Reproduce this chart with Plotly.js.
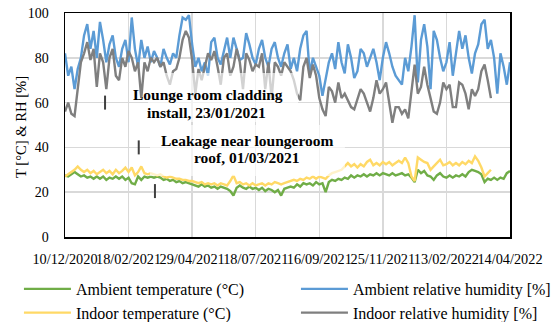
<!DOCTYPE html>
<html><head><meta charset="utf-8">
<script src="https://cdn.plot.ly/plotly-3.0.1.min.js"></script>
<style>html,body{margin:0;padding:0;background:#fff}#chart{width:552px;height:322px}</style>
</head><body><div id="chart"></div>
<script>
// Category tick labels (every 20 samples)
const tickLabels = ["10/12/2020","18/02/2021","29/04/2021","18/07/2021","16/09/2021","25/11/2021","13/02/2022","14/04/2022"];
const samplesPerLabel = 20;

const ambientTemp = [27.5,27,28,29,28,27,27.5,26.5,27,26,27,26,27,25.5,26.5,26,27,26,27,25.5,
26.5,24,23.5,27,25.5,27,26.5,27,26.5,27,26.5,25.5,26,25,25.5,24.5,25,24,24.5,24,
23.5,23,22.5,23.5,22.5,23,22,22.5,21.5,22.5,22,21.5,20.5,18.5,22,23,22,21.5,22.5,21.5,
22,21,22,20.5,21.5,21,20,21,18.5,21.5,22,22.5,22,23.5,22.5,24,23.5,24,23,24.5,
23.5,24,20,24.5,25.5,25,26,25.5,26.5,26,27.5,26.5,27.5,27,28,27,28,27.5,28.5,27.5,
28.5,28,27.5,28.5,27.5,28,28.5,27.5,28,26.5,24.5,30,28.5,29.5,27.5,27,25.5,27.5,28.5,27,
26.5,27.5,26.5,27.5,27,28,27,29,30,29.5,29,28,24.5,26,25.5,26.5,25.5,26.5,26,28.5,29.5];

const ambientRH = [82,72,76,66,75,80,90,95,84,92,80,96,88,78,86,90,80,76,84,88,
78,98,84,76,88,80,85,78,83,80,76,84,80,77,82,80,90,98,97,99,
86,76,80,74,78,72,87,89,80,77,83,89,80,89,84,79,80,91,86,80,
77,84,88,80,76,84,87,80,76,82,86,75,80,74,84,90,92,73,80,76,
72,63,70,78,82,75,87,78,73,86,80,71,74,84,82,76,80,84,78,70,
80,87,82,76,72,70,68,80,74,85,99,69,88,95,85,66,92,88,80,74,
78,87,72,82,92,84,90,80,73,82,86,95,97,84,88,80,64,82,76,68,78];

const indoorTemp = [27,28,29,30,31.5,30,29,30,28.5,29.5,28,29,30,28.5,29.5,28,30,28.5,29.5,31,
29,31,27.5,29,31.5,28.5,28,28.5,28,27.5,28,27,26.5,27,26.5,26,26,25.5,25.5,25,
25,24.5,24,24.5,23.5,24,23.5,24,23,24,23.5,23,25,27.5,24,24.5,23.5,24,23,24,
23,23.5,24,23,24,23.5,24.5,24,23.5,24,24.5,25,25.5,25,26,25.5,26.5,26,27,26,
27,26.5,26,27.5,28.5,29,29.5,30,31.5,33,31.5,32.5,31,32.5,31.5,33.5,34.5,32,33,32,
33.5,32.5,33.5,32,33,34,33,35.5,33,27,25,35.5,34.5,33.5,33,30,31.5,33,34.5,32,
32.5,33.5,32,33,32,33.5,32.5,34,33,36,34,31,27,28.5,30];

const indoorRH = [56,60,55,54,66,78,82,87,79,84,67,82,78,66,80,84,72,70,80,76,
83,80,74,78,62,78,74,80,78,80,76,78,72,68,74,75,80,88,92,89,
79,64,75,70,76,82,79,83,76,68,80,82,72,76,84,78,66,82,79,74,
77,76,82,66,78,62,78,76,72,78,76,74,70,64,61,76,80,71,77,72,
62,57,54,67,65,60,69,62,64,61,58,57,62,66,64,60,56,62,70,64,
66,69,60,51,58,58,55,57,53,64,77,64,67,76,68,62,56,55,60,69,
66,68,58,58,69,68,64,57,66,63,66,74,77,70,62];

// Event marks (sample index, value)
const eventIdx = [12.6, 23.2, 28.3];
const eventVal = [60, 40, 20.5];

const idx = a => a.map((_, i) => i);
const lineTrace = (name, y, color, legend) => ({
  type: 'scatter', mode: 'lines', name, x: idx(y), y, legend,
  line: {color, width: 2.4}, hoverinfo: 'skip'
});

const serif = 'Liberation Serif, Times New Roman, serif';
const nLab = tickLabels.length;
const traces = [
  lineTrace('Ambient temperature (°C)', ambientTemp, '#70AD47', 'legend'),
  lineTrace('Ambient relative humidity [%]', ambientRH, '#5B9BD5', 'legend2'),
  lineTrace('Indoor temperature (°C)', indoorTemp, '#FFD966', 'legend'),
  lineTrace('Indoor relative humidity [%]', indoorRH, '#7F7F7F', 'legend2'),
  {type:'scatter', mode:'markers', x: eventIdx, y: eventVal, showlegend:false,
   marker:{symbol:'line-ns', size:10, line:{width:2, color:'#404040'}}, hoverinfo:'skip'}
];

const legendBase = {
  orientation: 'v', xanchor: 'left', y: -0.156, yanchor: 'top',
  font: {family: serif, size: 16, color: '#000'},
  bgcolor: 'rgba(0,0,0,0)', itemwidth: 47, tracegroupgap: 0
};

const boldFont = {family: serif, size: 15.5, color: '#000'};
const txt = (text, x, y) => ({xref: 'paper', yref: 'paper', x, y, xanchor: 'center', yanchor: 'middle',
  showarrow: false, text: '<b>' + text + '</b>', font: boldFont});
const fade = (x0, x1, y0, y1) => ({type: 'rect', xref: 'paper', yref: 'paper', x0, x1, y0, y1,
  fillcolor: 'rgba(255,255,255,0.65)', line: {width: 0}, layer: 'above'});

const layout = {
  width: 552, height: 322,
  margin: {l: 65, r: 42, t: 13, b: 85, autoexpand: false},
  paper_bgcolor: '#fff', plot_bgcolor: '#fff',
  font: {family: serif, size: 14, color: '#000'},
  showlegend: true,
  xaxis: {
    range: [0, (nLab - 1) * samplesPerLabel],
    tickvals: tickLabels.map((_, i) => i * samplesPerLabel),
    ticktext: tickLabels,
    tickangle: 0,
    showgrid: true, gridcolor: '#d9d9d9', gridwidth: 1.5,
    showline: true, linecolor: '#000', linewidth: 1.5, mirror: true,
    ticks: '', ticklabelstandoff: 8,
    tickfont: {family: serif, size: 14.3, color: '#000'},
    zeroline: false, fixedrange: true
  },
  yaxis: {
    range: [0, 100], dtick: 20,
    showgrid: true, gridcolor: '#d9d9d9', gridwidth: 1.5,
    showline: true, linecolor: '#000', linewidth: 1.5, mirror: true,
    ticks: '', ticklabelstandoff: 12,
    tickfont: {family: serif, size: 14, color: '#000'},
    zeroline: false, fixedrange: true
  },
  legend: Object.assign({}, legendBase, {x: -0.1035}),
  legend2: Object.assign({}, legendBase, {x: 0.519}),
  shapes: [
    fade(0.1865, 0.5236, 0.513, 0.732),
    fade(0.191, 0.629, 0.272, 0.5)
  ],
  annotations: [
    {xref: 'paper', yref: 'paper', x: -0.099, y: 0.491, xanchor: 'center', yanchor: 'middle',
     textangle: -90, showarrow: false, text: 'T [°C] & RH [%]',
     font: {family: serif, size: 14.6, color: '#000'}},
    txt('Lounge room cladding', 0.321, 0.634),
    txt('install, 23/01/2021', 0.319, 0.554),
    txt('Leakage near loungeroom', 0.409, 0.433),
    txt('roof, 01/03/2021', 0.409, 0.353)
  ]
};

Plotly.newPlot('chart', traces, layout, {staticPlot: true, displayModeBar: false});
</script>
</body></html>
